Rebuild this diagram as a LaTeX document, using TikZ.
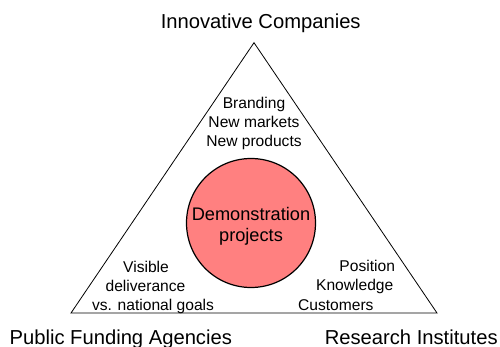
\documentclass[tikz,border=0pt]{standalone}
\usepackage{fontspec}
\setmainfont{Liberation Sans}
\definecolor{projfill}{HTML}{FF8080}
\begin{document}
\begin{tikzpicture}[x=1pt,y=-1pt,
  corner/.style={inner sep=0pt,anchor=base,font=\fontsize{20.2}{24}\selectfont},
  benefit/.style={inner sep=0pt,anchor=base,font=\fontsize{15.6}{19}\selectfont},
  core/.style={inner sep=0pt,anchor=base,font=\fontsize{18.2}{21}\selectfont},
  edge/.style={draw=black,line width=0.8pt,line join=miter},
  hub/.style={draw=black,line width=1.2pt,fill=projfill}]
\useasboundingbox (0,0) rectangle (500,347);

% triangle linking the three actors
\coordinate (top) at (254,42.7);
\coordinate (bl) at (71,313);
\coordinate (br) at (437,313);
\draw[edge] (top) -- (bl) -- (br) -- cycle;

% central project circle
\node[hub,circle,minimum size=129pt,inner sep=0pt] (proj) at (251,223) {};
\node[core] (p1) at (251,221) {Demonstration};
\node[core] (p2) at (251,241) {projects};

% actors at the corners
\node[corner] (ic) at (260.7,28.3) {Innovative Companies};
\node[corner] (pfa) at (120.8,344.5) {Public Funding Agencies};
\node[corner] (ri) at (411.2,344.5) {Research Institutes};

% benefits for companies
\node[benefit] (c1) at (254,109) {Branding};
\node[benefit] (c2) at (254,128) {New markets};
\node[benefit] (c3) at (254,147) {New products};

% benefits for funding agencies
\node[benefit] (f1) at (146,272) {Visible};
\node[benefit] (f2) at (145.5,291) {deliverance};
\node[benefit] (f3) at (153,310) {vs. national goals};

% benefits for research institutes
\node[benefit] (r1) at (367.2,271) {Position};
\node[benefit] (r2) at (354.7,290.5) {Knowledge};
\node[benefit] (r3) at (335.8,310) {Customers};
\end{tikzpicture}
\end{document}
